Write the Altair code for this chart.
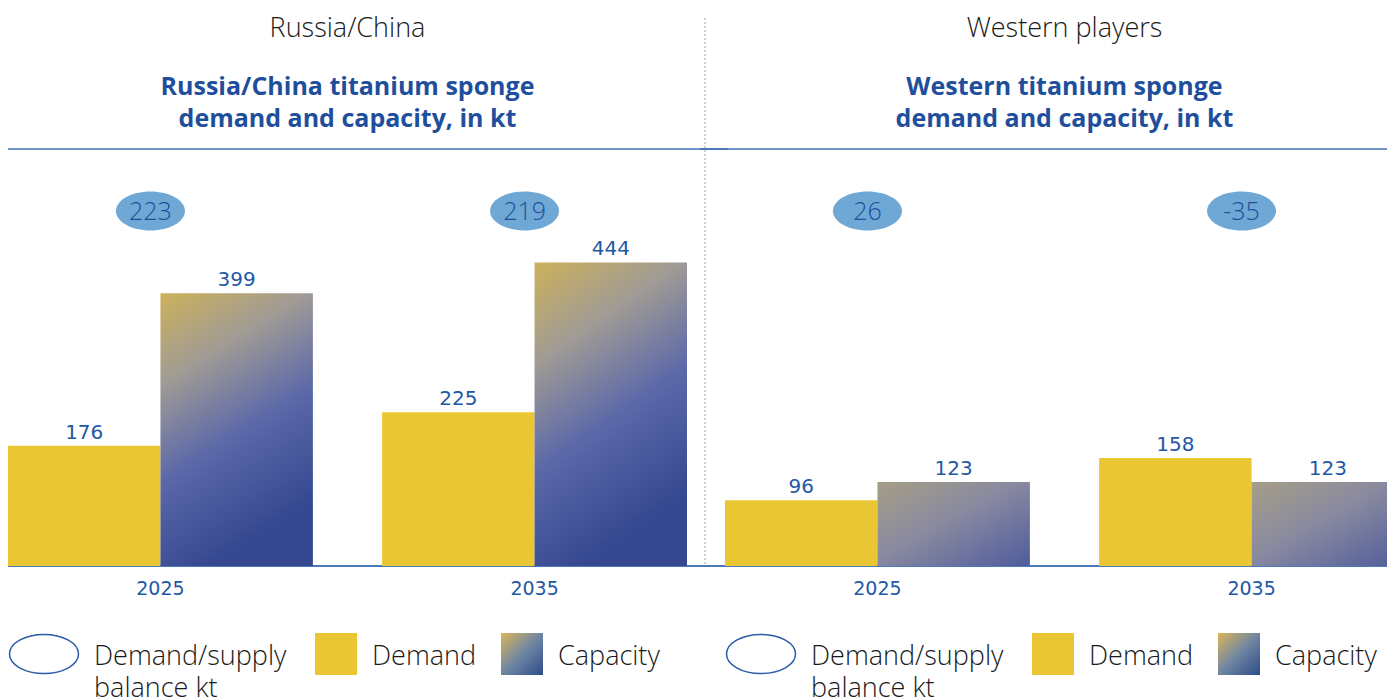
import altair as alt
import pandas as pd

# ---- data ----
panels = ["Russia/China", "Western players"]
subtitles = ["Russia/China titanium sponge\ndemand and capacity, in kt",
             "Western titanium sponge\ndemand and capacity, in kt"]
years = ["2025", "2035"]
series = ["Demand", "Capacity"]
demand = {"Russia/China": [176, 225], "Western players": [96, 158]}
capacity = {"Russia/China": [399, 444], "Western players": [123, 123]}
balance = {"Russia/China": ["223", "219"], "Western players": ["26", "-35"]}
legend_labels = ["Demand/supply\nbalance kt", "Demand", "Capacity"]

# ---- styles ----
YELLOW = "#eac634"
DARKBLUE = "#1f4f9c"
LABELBLUE = "#2358a5"
LINEBLUE = "#3f72b4"
ELLIPSE = "#6fa7d5"
PLOT_H = 417
YMAX = 610
LEGFONT = 27

grad_left = alt.LinearGradient(gradient="linear", x1=0, y1=0, x2=0.35, y2=1, stops=[
    alt.GradientStop(color="#cdb15a", offset=0),
    alt.GradientStop(color="#a09b95", offset=0.3),
    alt.GradientStop(color="#5b68a9", offset=0.62),
    alt.GradientStop(color="#34478f", offset=1)])
grad_right = alt.LinearGradient(gradient="linear", x1=0, y1=0, x2=1, y2=1, stops=[
    alt.GradientStop(color="#a59e86", offset=0),
    alt.GradientStop(color="#8a8aa0", offset=0.45),
    alt.GradientStop(color="#4f5c9c", offset=1)])
grad_legend = alt.LinearGradient(gradient="linear", x1=0, y1=0, x2=1, y2=1, stops=[
    alt.GradientStop(color="#dcb55a", offset=0),
    alt.GradientStop(color="#6f86a2", offset=0.5),
    alt.GradientStop(color="#2d4b8a", offset=1)])


def ellipse_path(shift):
    a, b = -1 + shift, 1 + shift
    return f"M {a} 0 A 1 0.565 0 1 0 {b} 0 A 1 0.565 0 1 0 {a} 0 Z"


def panel(i, width, xrange, grad, line_x0, line_x1, center, sep=False):
    name = panels[i]
    rows = []
    for j, yr in enumerate(years):
        rows.append({"year": yr, "series": "Demand", "value": demand[name][j]})
        rows.append({"year": yr, "series": "Capacity", "value": capacity[name][j]})
    df = pd.DataFrame(rows)
    bal = pd.DataFrame({"year": years, "balance": balance[name]})
    leg = pd.DataFrame({"label": legend_labels})
    ttl = pd.DataFrame({"header": [name], "sub": [subtitles[i]]})

    sc = {"domain": years, "paddingInner": 0.185, "paddingOuter": 0}
    if xrange:
        sc["range"] = xrange
    xscale = alt.Scale(**sc)
    x = alt.X("year:N", scale=xscale, axis=None)
    xo = alt.XOffset("series:N", scale=alt.Scale(domain=series))
    y = alt.Y("value:Q", scale=alt.Scale(domain=[0, YMAX]), axis=None)

    base = alt.Chart(df).encode(x=x, xOffset=xo, y=y)
    dem = base.transform_filter(alt.datum.series == "Demand").mark_bar(color=YELLOW, clip=True)
    cap = base.transform_filter(alt.datum.series == "Capacity").mark_bar(color=grad, clip=True)
    lbl = base.mark_text(baseline="alphabetic", dy=-7, font="DejaVu Sans", fontSize=20,
                         color=LABELBLUE).encode(text="value:Q")

    yr_lbl = alt.Chart(bal).mark_text(baseline="alphabetic", font="DejaVu Sans", fontSize=19,
                                      color=LABELBLUE).encode(
        x=x, y=alt.value(PLOT_H + 29), text="year:N")

    ell = alt.Chart(bal).mark_point(shape=ellipse_path(-0.29), size=69 * 69, filled=True,
                                    fill=ELLIPSE, opacity=1, strokeOpacity=0).encode(
        x=x, y=alt.value(62))
    ell_t = alt.Chart(bal).mark_text(dx=-10, baseline="middle", font="Open Sans", fontWeight=300,
                                     fontSize=25, color=DARKBLUE).encode(
        x=x, y=alt.value(63), text="balance:N")

    header = alt.Chart(ttl).mark_text(align="center", baseline="alphabetic", font="Open Sans",
                                      fontWeight=300, fontSize=27, color="#1a1a1a").encode(
        x=alt.value(center), y=alt.value(-112), text="header:N")
    subt = alt.Chart(ttl).mark_text(align="center", baseline="alphabetic", font="Open Sans",
                                    fontWeight="bold", fontSize=25, color=DARKBLUE,
                                    lineBreak="\n", lineHeight=32).encode(
        x=alt.value(center), y=alt.value(-54), text="sub:N")

    one = alt.Chart(leg.iloc[[0]])
    top_line = one.mark_rule(color=LINEBLUE, strokeWidth=1.5).encode(
        x=alt.value(line_x0), x2=alt.value(line_x1), y=alt.value(0))
    base_line = one.mark_rule(color="#4a7bb8", strokeWidth=2).encode(
        x=alt.value(line_x0), x2=alt.value(line_x1), y=alt.value(PLOT_H))

    leg_ell = alt.Chart(leg.iloc[[0]]).mark_point(shape=ellipse_path(0), size=69 * 69, filled=False,
                                                   stroke="#2a5ca8", strokeWidth=1.5, opacity=1).encode(
        x=alt.value(36), y=alt.value(505))
    leg_t0 = alt.Chart(leg.iloc[[0]]).mark_text(align="left", baseline="alphabetic", lineBreak="\n",
                                                  lineHeight=32, font="Open Sans", fontWeight=300,
                                                  fontSize=LEGFONT, color="#1a1a1a").encode(
        x=alt.value(86), y=alt.value(516), text="label:N")
    leg_r1 = alt.Chart(leg.iloc[[1]]).mark_rect(color=YELLOW).encode(
        x=alt.value(307), x2=alt.value(349), y=alt.value(484), y2=alt.value(526))
    leg_t1 = alt.Chart(leg.iloc[[1]]).mark_text(align="left", baseline="alphabetic", font="Open Sans",
                                                  fontWeight=300, fontSize=LEGFONT, color="#1a1a1a").encode(
        x=alt.value(364), y=alt.value(516), text="label:N")
    leg_r2 = alt.Chart(leg.iloc[[2]]).mark_rect(color=grad_legend).encode(
        x=alt.value(493), x2=alt.value(535), y=alt.value(484), y2=alt.value(526))
    leg_t2 = alt.Chart(leg.iloc[[2]]).mark_text(align="left", baseline="alphabetic", font="Open Sans",
                                                  fontWeight=300, fontSize=LEGFONT, color="#1a1a1a").encode(
        x=alt.value(550), y=alt.value(516), text="label:N")

    layers = [top_line, base_line, dem, cap, lbl, yr_lbl, ell, ell_t, header, subt,
              leg_ell, leg_t0, leg_r1, leg_t1, leg_r2, leg_t2]
    if sep:
        sep_line = one.mark_rule(color="#b3c2da", strokeWidth=1.5, strokeDash=[2, 2]).encode(
            x=alt.value(-20), y=alt.value(-131), y2=alt.value(PLOT_H))
        layers.insert(0, sep_line)

    return alt.layer(*layers).properties(width=width, height=PLOT_H)


left = panel(0, 679, None, grad_left, 0, 720, 339.5)
right = panel(1, 670, [0, 679], grad_right, -25, 669, 339.5, sep=True)

chart = alt.hconcat(left, right, spacing=38, bounds="flush").properties(
    padding={"left": -2, "top": 7, "right": -8, "bottom": 0}
).configure_view(stroke=None).resolve_scale(x="independent", y="independent")

chart.save("out.html", embed_options={"renderer": "svg", "actions": False})
